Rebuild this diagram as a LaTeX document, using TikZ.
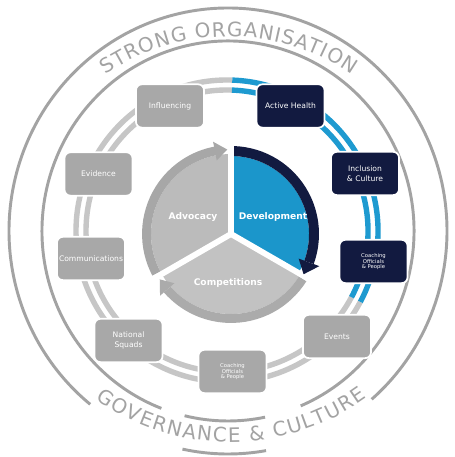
\documentclass[tikz,border=0pt]{standalone}
\usepackage{fontspec}
\setmainfont{DejaVu Sans}
\usetikzlibrary{decorations.text}
\definecolor{ringgray}{HTML}{A3A3A3}
\definecolor{boxgray}{HTML}{A8A8A8}
\definecolor{navy}{HTML}{121A40}
\definecolor{cblue}{HTML}{1B96CB}
\definecolor{stripgray}{HTML}{C6C6C6}
\definecolor{stripblue}{HTML}{1E9AD0}
\definecolor{advfill}{HTML}{BBBBBB}
\definecolor{advband}{HTML}{A7A7A7}
\definecolor{compfill}{HTML}{C2C2C2}
\definecolor{compband}{HTML}{ABABAB}
\newcommand{\ringfmt}{\fontsize{17}{17}\selectfont}
\begin{document}
\begin{tikzpicture}[x=0.03cm,y=0.03cm,
  ringline/.style={draw=ringgray, line width=2.5pt},
  strip/.style={line width=4.6pt},
  cbox/.style={rounded corners=5pt, minimum width=2.04cm, minimum height=1.3cm, draw=white, line width=1.5pt, text=white, font=\fontsize{6.5}{8}\selectfont, align=center, inner sep=1pt},
  graybox/.style={cbox, fill=boxgray},
  navybox/.style={cbox, fill=navy},
  tinytext/.style={font=\fontsize{4.5}{4.2}\selectfont},
  pielabel/.style={text=white, font=\bfseries\fontsize{7.8}{9}\selectfont},
  ringtext/.style={decorate, decoration={text along path, text align={fit to path}, text color=ringgray}}
]
\fill[white] (0,0) rectangle (454,457);
\useasboundingbox (0,0) rectangle (454,457);
\coordinate (C) at (228,226);
\coordinate (T) at (229,203);
\coordinate (B) at (230,248);
\coordinate (R) at (227,226);

% outer band lines
\draw[ringline] (C) ++(-49:219 and 223) arc[start angle=-49, end angle=231, x radius=219, y radius=223];
\draw[ringline] (C) ++(258:219 and 223) arc[start angle=258, end angle=280, x radius=219, y radius=223];
\draw[ringline] (C) ++(-67:186 and 190) arc[start angle=-67, end angle=249, x radius=186, y radius=190];
\draw[ringline] (C) ++(256.5:186 and 190) arc[start angle=256.5, end angle=281.5, x radius=186, y radius=190];

% band texts
\path[ringtext, decoration={text={|\ringfmt|STRONG ORGANISATION}}]
  (T) ++(124.5:217.5) arc[start angle=124.5, end angle=55.5, radius=217.5];
\path[ringtext, decoration={text={|\ringfmt|GOVERNANCE {\&} CULTURE}}]
  (B) ++(234.7:233) arc[start angle=234.7, end angle=305.9, radius=233];

% cycle strips
\draw[strip, stripgray] (R) ++(88:141) arc[start angle=88, end angle=332, radius=141];
\draw[strip, stripgray] (R) ++(88:151) arc[start angle=88, end angle=332, radius=151];
\draw[strip, stripblue] (R) ++(-28:141) arc[start angle=-28, end angle=88, radius=141];
\draw[strip, stripblue] (R) ++(-28:151) arc[start angle=-28, end angle=88, radius=151];

% boxes
\node[graybox] (infl) at (170,351) {Influencing};
\node[navybox] (ah) at (290.5,351) {Active Health};
\node[navybox] (inc) at (365,283.5) {Inclusion\\\& Culture};
\node[navybox, tinytext] (coach1) at (373.5,195.5) {Coaching\\Officials\\\& People};
\node[graybox] (ev) at (337,120.5) {Events};
\node[graybox, tinytext] (coach2) at (232.5,85.5) {Coaching\\Officials\\\& People};
\node[graybox] (nat) at (128.5,116.5) {National\\Squads};
\node[graybox] (comm) at (91,198.5) {Communications};
\node[graybox] (evid) at (98.5,283) {Evidence};

% central pie
\begin{scope}[shift={(231,223)}]
  \fill[advfill] (0,0) -- (90:80) arc[start angle=90, end angle=210, radius=80] -- cycle;
  \fill[cblue] (0,0) -- (-30:78) arc[start angle=-30, end angle=90, radius=78] -- cycle;
  \fill[compfill] (0,0) -- (210:80) arc[start angle=210, end angle=330, radius=80] -- cycle;
  \draw[advband, line width=7.6pt] (208:84.5) arc[start angle=208, end angle=100, radius=84.5];
  \draw[navy, line width=8.5pt] (88:83) arc[start angle=88, end angle=-20, radius=83];
  \draw[compband, line width=7.6pt] (-32:84.5) arc[start angle=-32, end angle=-139, radius=84.5];
  \draw[white, line width=5pt] (0,0) -- (90:100) (0,0) -- (210:100) (0,0) -- (330:100);
  \fill[advband] (101:75) -- (92.5:84.5) -- (101:94) -- cycle;
  \fill[navy] (-20:72) -- (-29:83) -- (-20:94) -- cycle;
  \fill[compband] (221:75) -- (212.5:84.5) -- (221:94) -- cycle;
\end{scope}
\node[pielabel] (adv) at (193,240) {Advocacy};
\node[pielabel] (dev) at (273,240) {Development};
\node[pielabel] (comp) at (228,174) {Competitions};
\end{tikzpicture}
\end{document}
